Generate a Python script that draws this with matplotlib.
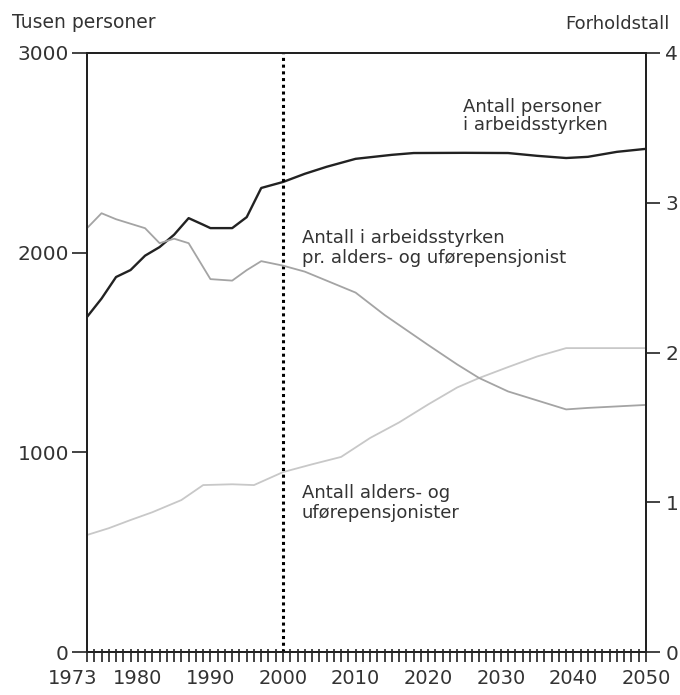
import matplotlib.pyplot as plt
from matplotlib.ticker import FixedLocator, FixedFormatter
import matplotlib.transforms as mtransforms

plt.rcParams['font.family'] = ['DejaVu Sans']

# Antall personer i arbeidsstyrken (tusen)
arb_years = [1973, 1975, 1977, 1979, 1981, 1983, 1985, 1987, 1989, 1990, 1993,
             1995, 1997, 2000, 2003, 2006, 2010, 2015, 2018, 2025, 2031, 2035,
             2039, 2042, 2046, 2050]
arb_vals = [1678, 1770, 1878, 1913, 1985, 2028, 2090, 2173, 2140, 2123, 2123,
            2178, 2324, 2354, 2395, 2430, 2470, 2490, 2499, 2500, 2499, 2485,
            2474, 2480, 2505, 2520]

# Antall i arbeidsstyrken pr. alders- og uførepensjonist (forholdstall)
ratio_years = [1973, 1975, 1977, 1981, 1983, 1985, 1987, 1990, 1993, 1995,
               1997, 2000, 2003, 2006, 2010, 2014, 2017, 2020, 2024, 2027,
               2031, 2035, 2039, 2042, 2046, 2050]
ratio_vals = [2.83, 2.93, 2.89, 2.83, 2.73, 2.76, 2.73, 2.49, 2.48, 2.55,
              2.61, 2.58, 2.54, 2.48, 2.40, 2.25, 2.15, 2.05, 1.92, 1.83,
              1.74, 1.68, 1.62, 1.63, 1.64, 1.65]

# Antall alders- og uførepensjonister (tusen)
pens_years = [1973, 1976, 1979, 1982, 1986, 1989, 1993, 1996, 2000, 2004,
              2008, 2012, 2016, 2020, 2024, 2027, 2031, 2035, 2039, 2044, 2050]
pens_vals = [586, 620, 661, 700, 761, 836, 840, 836, 901, 940,
             977, 1072, 1150, 1240, 1325, 1372, 1427, 1480, 1522, 1522, 1522]

year_labels = {1973: '1973', 1980: '1980', 1990: '1990', 2000: '2000',
               2010: '2010', 2020: '2020', 2030: '2030', 2040: '2040',
               2050: '2050'}

fig = plt.figure(figsize=(6.8, 6.95), dpi=100)
ax = fig.add_axes([87 / 680, 43 / 695, 559 / 680, 599 / 695])
ax2 = ax.twinx()

ax.plot(arb_years, arb_vals, color='#222222', lw=1.7, zorder=3)
ax.plot(pens_years, pens_vals, color='#c8c8c8', lw=1.3, zorder=2)
ax2.plot(ratio_years, ratio_vals, color='#a4a4a4', lw=1.3, zorder=2)

ax.axvline(2000, color='black', lw=2.2, ls=(0, (1, 1.2)), zorder=4)

ax.set_xlim(1973, 2050)
ax.set_ylim(0, 3000)
ax2.set_ylim(0, 4)

txt = '#333333'
all_years = list(range(1973, 2051))
ax.xaxis.remove_overlapping_locs = False
ax.xaxis.set_major_locator(FixedLocator(all_years))
ax.xaxis.set_major_formatter(FixedFormatter([year_labels.get(y, '') for y in all_years]))
ax.xaxis.set_minor_locator(FixedLocator(all_years))
ax.tick_params(axis='x', which='major', direction='out', length=7.5, width=1.2,
               labelsize=14, pad=5, colors='#222222', labelcolor=txt)
ax.tick_params(axis='x', which='minor', direction='in', length=2.5, width=1.2,
               colors='#222222')
ax.set_yticks([0, 1000, 2000, 3000])
ax.tick_params(axis='y', direction='out', length=11, width=1.2, labelsize=14.5,
               pad=2, colors='#222222', labelcolor=txt)
ax2.set_yticks([0, 1, 2, 3, 4])
ax2.tick_params(axis='y', direction='out', length=10, width=1.2, labelsize=14.5,
                pad=4, colors='#222222', labelcolor=txt)

# shift first year label left so it does not crowd 1980
shift = mtransforms.ScaledTranslation(-14 / 100, 0, fig.dpi_scale_trans)
for lab in ax.get_xticklabels():
    if lab.get_text() == '1973':
        lab.set_transform(lab.get_transform() + shift)

for a in (ax, ax2):
    for s in a.spines.values():
        s.set_linewidth(1.4)
        s.set_color('#222222')

fig.text(12 / 680, 1 - 23 / 695, 'Tusen personer', fontsize=13.5,
         color=txt, va='center', ha='left')
fig.text(670 / 680, 1 - 24 / 695, 'Forholdstall', fontsize=13,
         color=txt, va='center', ha='right')

ax.text(2024.8, 2685, 'Antall personer\ni arbeidsstyrken', fontsize=13,
        color=txt, va='center', ha='left', linespacing=1.0)
ax.text(2002.6, 2025, 'Antall i arbeidsstyrken\npr. alders- og uførepensjonist',
        fontsize=13, color=txt, va='center', ha='left', linespacing=1.15)
ax.text(2002.6, 745, 'Antall alders- og\nuførepensjonister', fontsize=13,
        color=txt, va='center', ha='left', linespacing=1.15)

fig.savefig('out.png', dpi=100)
